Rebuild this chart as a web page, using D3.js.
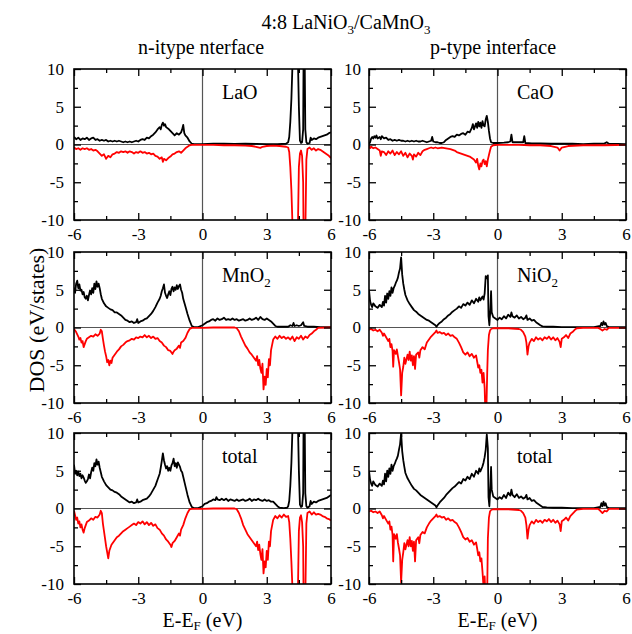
<!DOCTYPE html>
<html>
<head>
<meta charset="utf-8">
<script src="https://cdnjs.cloudflare.com/ajax/libs/d3/7.8.5/d3.min.js"></script>
<style>
  body { margin: 0; background: #fff; }
  svg text { font-family: "Liberation Serif", "Times New Roman", serif; fill: #000; }
</style>
</head>
<body>
<div id="chart"></div>
<script>
var svgWidth = 632;
var svgHeight = 634;

// tick values shared by all six panels
var xTicks = [-6, -3, 0, 3, 6];
var xMinorTicks = [-4.5, -1.5, 1.5, 4.5];
var yTicks = [-10, -5, 0, 5, 10];
var yMinorTicks = [-7.5, -2.5, 2.5, 7.5];

// panel labels (subscript written after "_")
var panelLabels = ["LaO", "CaO", "MnO_2", "NiO_2", "total", "total"];

// DOS curves: [E - E_F (eV), DOS]
var laoUp = [[-6,1.0],[-5.9,0.7],[-5.8,0.9],[-5.7,0.6],[-5.6,0.8],[-5.5,0.7],[-5.4,0.9],[-5.3,0.6],[-5.2,0.8],[-5.1,0.9],[-5.0,0.6],[-4.9,0.7],[-4.8,0.5],[-4.7,0.6],[-4.6,0.5],[-4.5,0.6],[-4.4,0.4],[-4.3,0.5],[-4.2,0.4],[-4.1,0.5],[-4.0,0.4],[-3.9,0.5],[-3.8,0.4],[-3.7,0.3],[-3.6,0.4],[-3.5,0.3],[-3.4,0.4],[-3.3,0.3],[-3.2,0.4],[-3.1,0.5],[-3.0,0.4],[-2.9,0.6],[-2.8,0.7],[-2.7,0.6],[-2.6,0.9],[-2.5,0.8],[-2.4,1.1],[-2.3,1.3],[-2.2,1.6],[-2.1,2.0],[-2.0,2.3],[-1.95,2.0],[-1.9,2.6],[-1.85,2.9],[-1.8,2.5],[-1.75,2.7],[-1.7,2.3],[-1.6,2.1],[-1.5,1.8],[-1.4,1.5],[-1.3,1.2],[-1.2,1.5],[-1.1,1.3],[-1.0,1.6],[-0.95,2.0],[-0.9,2.6],[-0.85,1.5],[-0.8,1.2],[-0.7,0.9],[-0.6,0.4],[-0.5,0.1],[-0.4,0.05],[0,0.05],[0.5,0.1],[1,0.1],[1.5,0.08],[2,0.1],[2.5,0.08],[3,0.05],[3.5,0.05],[3.9,0.1],[4.0,0.3],[4.05,1.0],[4.1,3],[4.15,6],[4.2,10.5],[4.25,12],[4.45,12],[4.5,5],[4.55,0.5],[4.6,0.2],[4.65,0.3],[4.7,2],[4.72,12],[4.77,12],[4.8,2],[4.85,0.3],[4.9,0.1],[5.0,0.2],[5.05,0.9],[5.1,0.6],[5.2,0.8],[5.3,0.7],[5.4,0.9],[5.5,1.0],[5.6,1.1],[5.7,1.2],[5.8,1.3],[5.9,1.5],[6.0,1.6]];
var laoDown = [[-6,-0.4],[-5.9,-0.6],[-5.8,-0.5],[-5.7,-0.7],[-5.6,-0.5],[-5.5,-0.6],[-5.4,-0.5],[-5.3,-0.7],[-5.2,-0.6],[-5.1,-0.8],[-5.0,-0.7],[-4.9,-0.9],[-4.8,-1.2],[-4.7,-1.5],[-4.6,-1.3],[-4.5,-1.9],[-4.4,-1.5],[-4.3,-1.7],[-4.2,-1.3],[-4.1,-1.2],[-4.0,-1.0],[-3.9,-1.1],[-3.8,-0.9],[-3.7,-1.0],[-3.6,-0.9],[-3.5,-1.1],[-3.4,-0.9],[-3.3,-1.0],[-3.2,-1.2],[-3.1,-1.0],[-3.0,-1.1],[-2.9,-0.9],[-2.8,-1.1],[-2.7,-1.0],[-2.6,-1.2],[-2.5,-1.1],[-2.4,-1.3],[-2.3,-1.2],[-2.2,-1.5],[-2.1,-1.6],[-2.0,-1.9],[-1.9,-1.7],[-1.85,-2.3],[-1.8,-1.9],[-1.7,-2.1],[-1.6,-1.8],[-1.5,-1.6],[-1.4,-1.3],[-1.3,-1.2],[-1.2,-1.0],[-1.1,-0.9],[-1.0,-1.1],[-0.9,-0.8],[-0.8,-0.5],[-0.7,-0.3],[-0.6,-0.1],[-0.5,-0.05],[0,-0.05],[0.5,-0.05],[1,-0.1],[1.5,-0.1],[2,-0.15],[2.3,-0.2],[2.5,-0.3],[2.7,-0.45],[2.8,-0.3],[3.0,-0.2],[3.3,-0.15],[3.6,-0.2],[3.9,-0.3],[4.0,-0.4],[4.05,-1],[4.1,-3],[4.15,-6],[4.2,-10.5],[4.25,-12],[4.45,-12],[4.5,-3],[4.55,-1.2],[4.6,-0.8],[4.65,-1.5],[4.7,-5],[4.72,-12],[4.8,-12],[4.85,-2],[4.9,-0.6],[5.0,-0.4],[5.1,-0.7],[5.2,-0.5],[5.3,-0.8],[5.4,-0.6],[5.5,-0.7],[5.6,-0.9],[5.7,-1.1],[5.8,-1.3],[5.9,-1.5],[6.0,-1.8]];

var caoUp = [[-6,0.05],[-5.95,0.3],[-5.9,0.8],[-5.85,1.0],[-5.8,0.8],[-5.75,1.1],[-5.7,0.9],[-5.65,1.2],[-5.6,0.8],[-5.5,1.0],[-5.45,0.7],[-5.4,1.1],[-5.3,0.8],[-5.2,0.9],[-5.1,0.6],[-5.0,0.7],[-4.9,0.5],[-4.8,0.6],[-4.7,0.5],[-4.6,0.6],[-4.5,0.5],[-4.4,0.5],[-4.3,0.4],[-4.2,0.5],[-4.1,0.4],[-4.0,0.5],[-3.9,0.4],[-3.8,0.5],[-3.7,0.4],[-3.6,0.4],[-3.5,0.5],[-3.4,0.4],[-3.3,0.3],[-3.2,0.4],[-3.1,0.5],[-3.05,1.0],[-3.0,0.4],[-2.9,0.3],[-2.8,0.3],[-2.7,0.2],[-2.6,0.2],[-2.5,0.3],[-2.4,0.6],[-2.3,0.8],[-2.2,1.0],[-2.1,1.1],[-2.0,1.0],[-1.9,1.3],[-1.8,1.2],[-1.7,1.4],[-1.6,1.5],[-1.5,1.3],[-1.4,1.7],[-1.3,1.6],[-1.2,2.2],[-1.15,2.7],[-1.1,2.0],[-1.0,2.8],[-0.95,2.2],[-0.9,3.0],[-0.85,2.4],[-0.8,2.9],[-0.75,2.2],[-0.7,3.1],[-0.65,2.5],[-0.6,2.4],[-0.55,3.3],[-0.5,3.8],[-0.45,3.0],[-0.4,1.8],[-0.35,0.8],[-0.3,0.3],[-0.2,0.2],[0,0.2],[0.3,0.25],[0.5,0.3],[0.6,0.4],[0.65,1.3],[0.7,0.3],[1.0,0.3],[1.2,0.3],[1.25,1.1],[1.3,0.2],[1.6,0.15],[2.0,0.15],[2.5,0.1],[3,0.1],[3.5,0.1],[4,0.05],[4.5,0.1],[5,0.15],[5.1,0.3],[5.2,0.1],[6,0.05]];
var caoDown = [[-6,-0.1],[-5.95,-0.5],[-5.9,-0.3],[-5.8,-0.5],[-5.7,-0.4],[-5.6,-0.6],[-5.5,-0.8],[-5.45,-1.5],[-5.4,-0.9],[-5.3,-1.0],[-5.2,-1.4],[-5.1,-0.9],[-5.0,-1.2],[-4.9,-0.8],[-4.8,-1.4],[-4.7,-1.0],[-4.6,-1.3],[-4.5,-0.9],[-4.4,-1.5],[-4.3,-1.1],[-4.2,-1.7],[-4.1,-1.2],[-4.0,-1.5],[-3.95,-2.0],[-3.9,-1.3],[-3.8,-1.6],[-3.7,-1.1],[-3.6,-1.4],[-3.5,-0.9],[-3.4,-0.7],[-3.3,-0.6],[-3.2,-0.5],[-3.1,-0.4],[-3.0,-0.5],[-2.9,-0.4],[-2.8,-0.5],[-2.6,-0.4],[-2.4,-0.5],[-2.2,-0.6],[-2.0,-0.8],[-1.9,-1.0],[-1.8,-1.1],[-1.7,-1.2],[-1.6,-1.3],[-1.5,-1.4],[-1.4,-1.5],[-1.3,-1.6],[-1.2,-1.8],[-1.1,-2.0],[-1.0,-2.4],[-0.95,-1.9],[-0.9,-2.8],[-0.85,-3.3],[-0.8,-2.5],[-0.75,-2.9],[-0.7,-2.2],[-0.65,-2.0],[-0.6,-2.6],[-0.55,-2.2],[-0.5,-2.9],[-0.45,-2.0],[-0.4,-1.4],[-0.35,-0.8],[-0.3,-0.3],[-0.2,-0.1],[0,-0.05],[1,-0.05],[1.5,-0.1],[2,-0.1],[2.5,-0.2],[2.8,-0.4],[2.9,-0.8],[3.0,-0.4],[3.3,-0.2],[4,-0.1],[5,-0.1],[6,-0.05]];

var mno2Up = [[-6,5.3],[-5.95,4.6],[-5.9,5.8],[-5.85,6.2],[-5.8,5.2],[-5.75,5.7],[-5.7,4.9],[-5.65,5.0],[-5.6,4.4],[-5.55,4.7],[-5.5,4.0],[-5.45,3.8],[-5.4,4.2],[-5.35,3.6],[-5.3,4.3],[-5.25,4.9],[-5.2,4.4],[-5.15,5.2],[-5.1,4.6],[-5.05,5.8],[-5.0,5.1],[-4.95,6.1],[-4.9,5.4],[-4.85,5.8],[-4.8,5.2],[-4.75,4.4],[-4.7,3.8],[-4.6,3.2],[-4.5,2.8],[-4.4,2.6],[-4.3,2.4],[-4.2,2.3],[-4.1,2.0],[-4.0,2.0],[-3.9,1.8],[-3.8,1.6],[-3.7,1.3],[-3.6,1.0],[-3.5,0.9],[-3.4,0.7],[-3.3,0.8],[-3.2,0.6],[-3.1,0.7],[-3.05,1.1],[-3.0,0.6],[-2.9,0.8],[-2.8,0.9],[-2.7,1.1],[-2.6,1.2],[-2.5,1.5],[-2.4,1.8],[-2.3,2.2],[-2.2,2.7],[-2.1,3.3],[-2.0,3.8],[-1.95,4.2],[-1.9,4.8],[-1.85,5.2],[-1.8,5.7],[-1.75,4.6],[-1.7,4.2],[-1.65,3.9],[-1.6,4.4],[-1.55,4.8],[-1.5,4.3],[-1.45,5.1],[-1.4,5.4],[-1.35,4.8],[-1.3,5.3],[-1.25,5.0],[-1.2,5.6],[-1.15,5.1],[-1.1,5.5],[-1.05,5.7],[-1.0,5.0],[-0.95,4.6],[-0.9,3.8],[-0.8,2.8],[-0.7,1.8],[-0.6,0.9],[-0.5,0.2],[-0.4,0.05],[-0.2,0.05],[0,0.3],[0.1,0.5],[0.2,0.7],[0.3,0.8],[0.4,1.0],[0.5,1.1],[0.6,0.9],[0.7,1.2],[0.8,1.0],[0.9,1.1],[1.0,1.3],[1.1,1.0],[1.2,1.1],[1.3,1.0],[1.4,1.2],[1.5,1.0],[1.6,1.1],[1.7,0.9],[1.8,1.0],[1.9,1.1],[2.0,0.9],[2.1,1.0],[2.2,1.2],[2.3,1.0],[2.4,1.1],[2.5,1.3],[2.6,1.0],[2.7,1.4],[2.8,1.1],[2.9,1.0],[3.0,1.2],[3.1,1.0],[3.2,0.8],[3.3,0.5],[3.4,0.2],[3.5,0.1],[3.8,0.1],[4.0,0.1],[4.1,0.3],[4.2,0.2],[4.25,0.6],[4.3,0.2],[4.4,0.3],[4.5,0.2],[4.6,0.3],[4.7,0.7],[4.75,0.2],[4.9,0.1],[5.2,0.1],[5.5,0.05],[6,0.05]];
var mno2Down = [[-6,-0.2],[-5.9,-0.6],[-5.8,-1.2],[-5.75,-1.6],[-5.7,-1.4],[-5.65,-2.0],[-5.6,-1.8],[-5.55,-2.6],[-5.5,-2.2],[-5.45,-1.8],[-5.4,-1.5],[-5.3,-1.3],[-5.2,-1.1],[-5.1,-1.2],[-5.0,-0.9],[-4.9,-1.1],[-4.8,-0.8],[-4.75,-0.3],[-4.7,-0.5],[-4.65,-1.5],[-4.6,-2.4],[-4.55,-3.2],[-4.5,-3.8],[-4.45,-4.6],[-4.4,-4.3],[-4.35,-5.0],[-4.3,-4.4],[-4.25,-4.7],[-4.2,-4.0],[-4.1,-3.6],[-4.0,-3.2],[-3.9,-2.9],[-3.8,-2.5],[-3.7,-2.3],[-3.6,-2.0],[-3.5,-1.8],[-3.4,-1.7],[-3.3,-1.5],[-3.2,-1.6],[-3.1,-1.3],[-3.0,-1.4],[-2.9,-1.2],[-2.8,-1.3],[-2.7,-1.0],[-2.6,-1.3],[-2.5,-1.1],[-2.4,-1.4],[-2.3,-1.2],[-2.2,-1.5],[-2.1,-1.4],[-2.0,-1.8],[-1.9,-2.0],[-1.8,-2.4],[-1.7,-2.6],[-1.6,-3.0],[-1.5,-3.1],[-1.4,-3.5],[-1.35,-3.2],[-1.3,-3.0],[-1.2,-2.8],[-1.1,-2.4],[-1.05,-2.7],[-1.0,-2.0],[-0.9,-1.8],[-0.8,-1.4],[-0.7,-0.7],[-0.6,-0.2],[-0.5,-0.05],[0,-0.05],[0.5,0],[1.0,0],[1.5,0],[1.6,-0.1],[1.7,-0.5],[1.8,-1.2],[1.9,-1.8],[2.0,-2.4],[2.1,-2.8],[2.2,-3.3],[2.3,-3.6],[2.4,-4.0],[2.5,-4.4],[2.55,-3.8],[2.6,-5.0],[2.65,-4.3],[2.7,-5.4],[2.75,-6.0],[2.8,-4.8],[2.85,-8.2],[2.9,-6.5],[2.95,-7.6],[3.0,-5.5],[3.05,-6.6],[3.1,-4.2],[3.15,-5.0],[3.2,-3.0],[3.3,-1.6],[3.4,-1.2],[3.5,-1.5],[3.6,-1.1],[3.7,-1.4],[3.8,-1.2],[3.9,-1.5],[4.0,-1.3],[4.1,-1.6],[4.2,-1.2],[4.3,-1.8],[4.4,-1.3],[4.5,-1.5],[4.6,-1.1],[4.7,-1.6],[4.8,-1.2],[4.9,-1.4],[5.0,-1.0],[5.1,-0.8],[5.2,-0.5],[5.3,-0.3],[5.4,-0.05],[6,0]];

var nio2Up = [[-6,5.0],[-5.95,3.5],[-5.9,3.0],[-5.85,2.7],[-5.8,3.2],[-5.7,2.8],[-5.6,2.6],[-5.5,3.0],[-5.4,2.7],[-5.35,3.4],[-5.3,2.9],[-5.25,4.2],[-5.2,3.3],[-5.15,4.5],[-5.1,3.8],[-5.05,4.8],[-5.0,4.2],[-4.95,5.3],[-4.9,4.6],[-4.85,5.2],[-4.8,5.5],[-4.75,5.9],[-4.7,6.2],[-4.65,6.6],[-4.6,7.3],[-4.55,7.8],[-4.5,9.3],[-4.45,7.0],[-4.4,5.8],[-4.35,5.0],[-4.3,4.3],[-4.2,3.6],[-4.1,3.1],[-4.0,2.7],[-3.9,2.3],[-3.8,2.1],[-3.7,1.8],[-3.6,1.6],[-3.5,1.4],[-3.4,1.2],[-3.3,1.0],[-3.2,0.9],[-3.1,0.7],[-3.0,0.5],[-2.9,0.3],[-2.85,0.1],[-2.8,0.3],[-2.7,0.6],[-2.6,0.8],[-2.5,1.1],[-2.4,1.3],[-2.3,1.6],[-2.2,1.8],[-2.1,2.1],[-2.0,2.3],[-1.9,2.5],[-1.8,2.8],[-1.7,2.6],[-1.6,3.1],[-1.5,2.9],[-1.4,3.3],[-1.3,3.0],[-1.2,3.6],[-1.1,3.2],[-1.0,3.8],[-0.9,3.4],[-0.85,4.0],[-0.8,3.6],[-0.7,4.1],[-0.65,3.7],[-0.6,4.5],[-0.55,6.8],[-0.5,6.5],[-0.45,6.9],[-0.42,1.5],[-0.38,0.3],[-0.33,2.5],[-0.3,4.8],[-0.27,2.0],[-0.2,1.4],[-0.1,1.2],[0,1.0],[0.1,1.3],[0.2,1.1],[0.3,1.5],[0.4,1.2],[0.5,1.7],[0.6,1.4],[0.65,2.0],[0.7,1.5],[0.8,1.3],[0.9,1.6],[1.0,1.2],[1.1,1.4],[1.2,1.1],[1.3,1.3],[1.35,1.6],[1.4,1.0],[1.5,1.2],[1.6,0.9],[1.7,1.0],[1.8,0.7],[1.9,0.5],[2.0,0.3],[2.1,0.15],[2.3,0.1],[2.6,0.1],[3,0.05],[3.5,0.05],[4,0.05],[4.5,0.05],[4.8,0.2],[4.85,0.6],[4.9,0.3],[4.95,0.8],[5.0,0.4],[5.05,0.6],[5.1,0.2],[5.2,0.05],[6,0.05]];
var nio2Down = [[-6,-0.3],[-5.9,-0.2],[-5.8,-0.4],[-5.7,-0.3],[-5.6,-0.5],[-5.5,-0.3],[-5.4,-0.7],[-5.35,-1.1],[-5.3,-0.8],[-5.2,-1.3],[-5.1,-1.8],[-5.05,-1.5],[-5.0,-2.6],[-4.95,-2.2],[-4.9,-3.1],[-4.87,-5.2],[-4.83,-3.0],[-4.75,-3.5],[-4.7,-2.9],[-4.65,-3.8],[-4.6,-4.6],[-4.55,-5.5],[-4.5,-9.0],[-4.45,-6.0],[-4.4,-5.2],[-4.35,-4.0],[-4.3,-4.8],[-4.2,-3.6],[-4.15,-4.3],[-4.1,-3.2],[-4.05,-4.4],[-4.0,-3.7],[-3.95,-5.0],[-3.9,-3.8],[-3.85,-5.5],[-3.8,-3.6],[-3.7,-3.3],[-3.65,-4.0],[-3.6,-3.0],[-3.5,-2.6],[-3.4,-2.9],[-3.3,-2.0],[-3.2,-1.6],[-3.1,-1.2],[-3.0,-0.9],[-2.9,-0.6],[-2.85,-0.4],[-2.8,-0.7],[-2.7,-0.6],[-2.6,-0.8],[-2.5,-0.7],[-2.4,-1.0],[-2.3,-0.8],[-2.2,-1.1],[-2.1,-1.0],[-2.0,-1.3],[-1.9,-1.5],[-1.8,-2.0],[-1.7,-2.6],[-1.6,-3.3],[-1.5,-3.6],[-1.4,-3.3],[-1.3,-3.8],[-1.2,-3.5],[-1.1,-4.0],[-1.0,-3.7],[-0.95,-4.5],[-0.9,-5.3],[-0.85,-5.0],[-0.8,-6.0],[-0.75,-5.6],[-0.7,-7.3],[-0.65,-6.0],[-0.6,-8.0],[-0.57,-11],[-0.52,-11],[-0.48,-6],[-0.45,-3],[-0.4,-1.0],[-0.35,-0.4],[-0.3,-0.2],[-0.2,-0.1],[0,-0.1],[0.5,-0.1],[1.0,-0.2],[1.1,-0.3],[1.2,-0.6],[1.3,-1.2],[1.35,-2.0],[1.4,-3.6],[1.45,-2.5],[1.5,-2.0],[1.6,-1.5],[1.7,-1.8],[1.8,-1.3],[1.9,-1.6],[2.0,-1.4],[2.1,-1.7],[2.2,-1.3],[2.3,-1.5],[2.4,-1.2],[2.5,-1.6],[2.6,-1.3],[2.7,-1.7],[2.8,-1.4],[2.9,-1.9],[2.95,-2.6],[3.0,-1.5],[3.1,-1.3],[3.2,-1.0],[3.3,-1.4],[3.4,-0.8],[3.5,-0.6],[3.6,-0.3],[3.7,-0.1],[4,-0.05],[4.7,-0.05],[4.8,-0.2],[4.9,-0.4],[5.0,-0.2],[5.1,-0.3],[5.2,-0.05],[6,-0.05]];

var totalNUp = [[-6,5.8],[-5.95,4.6],[-5.9,5.0],[-5.85,4.4],[-5.8,4.9],[-5.75,4.3],[-5.7,4.6],[-5.65,4.0],[-5.6,4.4],[-5.55,4.1],[-5.5,3.7],[-5.45,3.4],[-5.4,3.6],[-5.35,3.9],[-5.3,4.5],[-5.25,4.0],[-5.2,4.8],[-5.15,5.4],[-5.1,5.0],[-5.05,6.0],[-5.0,5.6],[-4.95,6.5],[-4.9,5.8],[-4.85,6.2],[-4.8,5.4],[-4.75,4.8],[-4.7,4.2],[-4.6,3.6],[-4.5,3.1],[-4.4,2.8],[-4.3,2.5],[-4.2,2.4],[-4.1,2.2],[-4.0,2.1],[-3.9,1.9],[-3.8,1.6],[-3.7,1.4],[-3.6,1.2],[-3.5,1.0],[-3.4,0.8],[-3.3,0.9],[-3.2,0.7],[-3.1,0.8],[-3.05,1.2],[-3.0,0.8],[-2.9,0.9],[-2.8,1.1],[-2.7,1.2],[-2.6,1.3],[-2.5,1.6],[-2.4,2.0],[-2.3,2.5],[-2.2,3.0],[-2.1,3.8],[-2.0,4.6],[-1.95,5.4],[-1.9,6.3],[-1.85,7.3],[-1.8,6.4],[-1.75,5.8],[-1.7,5.3],[-1.65,5.6],[-1.6,5.0],[-1.55,5.4],[-1.5,5.0],[-1.45,5.7],[-1.4,6.0],[-1.35,6.6],[-1.3,5.6],[-1.25,6.0],[-1.2,5.4],[-1.15,6.1],[-1.1,5.8],[-1.05,5.5],[-1.0,5.0],[-0.95,4.8],[-0.9,4.2],[-0.8,3.0],[-0.7,1.8],[-0.6,0.8],[-0.5,0.2],[-0.4,0.05],[-0.2,0.05],[0,0.3],[0.1,0.6],[0.2,0.7],[0.3,0.9],[0.4,1.0],[0.5,1.2],[0.6,1.1],[0.65,1.5],[0.7,1.2],[0.8,1.1],[0.9,1.3],[1.0,1.1],[1.1,1.3],[1.2,1.0],[1.3,1.2],[1.4,1.1],[1.5,1.0],[1.6,1.2],[1.7,1.0],[1.8,1.1],[1.9,1.2],[2.0,1.0],[2.1,1.1],[2.2,1.3],[2.3,1.0],[2.4,1.2],[2.5,1.1],[2.6,1.3],[2.7,1.1],[2.8,1.0],[2.9,1.2],[3.0,1.0],[3.1,1.1],[3.2,0.9],[3.3,0.9],[3.4,0.6],[3.5,0.3],[3.6,0.1],[3.8,0.05],[3.95,0.1],[4.0,0.3],[4.05,1.0],[4.1,3],[4.15,6],[4.2,10.5],[4.25,12],[4.45,12],[4.5,5],[4.55,0.5],[4.6,0.2],[4.65,0.3],[4.7,2],[4.72,12],[4.77,12],[4.8,2],[4.85,0.3],[4.9,0.1],[5.0,0.3],[5.05,1.0],[5.1,0.6],[5.2,0.9],[5.3,0.8],[5.4,1.0],[5.5,1.1],[5.6,1.2],[5.7,1.3],[5.8,1.4],[5.9,1.6],[6.0,1.8]];
var totalNDown = [[-6,-0.3],[-5.95,-0.9],[-5.9,-1.5],[-5.85,-1.2],[-5.8,-2.0],[-5.75,-1.7],[-5.7,-2.5],[-5.65,-2.1],[-5.6,-2.8],[-5.55,-3.2],[-5.5,-2.6],[-5.45,-2.2],[-5.4,-1.8],[-5.3,-1.6],[-5.2,-1.3],[-5.1,-1.5],[-5.0,-1.1],[-4.9,-1.2],[-4.8,-0.8],[-4.75,-0.3],[-4.7,-0.6],[-4.65,-2.0],[-4.6,-3.0],[-4.55,-4.0],[-4.5,-5.0],[-4.45,-5.8],[-4.4,-6.6],[-4.35,-5.6],[-4.3,-5.2],[-4.25,-4.8],[-4.2,-4.6],[-4.1,-4.2],[-4.0,-3.8],[-3.9,-3.6],[-3.8,-3.3],[-3.7,-3.0],[-3.6,-2.8],[-3.5,-2.6],[-3.4,-2.4],[-3.3,-2.2],[-3.2,-2.0],[-3.1,-2.2],[-3.0,-1.8],[-2.9,-2.0],[-2.8,-1.7],[-2.7,-2.1],[-2.6,-1.8],[-2.5,-2.2],[-2.4,-1.9],[-2.3,-2.3],[-2.2,-2.1],[-2.1,-2.6],[-2.0,-2.8],[-1.9,-3.3],[-1.8,-3.6],[-1.7,-4.1],[-1.6,-4.4],[-1.5,-4.8],[-1.45,-5.1],[-1.4,-4.6],[-1.3,-4.3],[-1.2,-3.8],[-1.1,-3.3],[-1.05,-3.6],[-1.0,-2.8],[-0.9,-2.2],[-0.8,-1.3],[-0.7,-0.6],[-0.6,-0.1],[-0.5,-0.05],[0,-0.05],[0.5,0],[1.0,0],[1.5,0],[1.6,-0.1],[1.7,-0.6],[1.8,-1.3],[1.9,-2.2],[2.0,-2.8],[2.1,-3.4],[2.2,-3.8],[2.3,-4.2],[2.4,-4.6],[2.5,-5.0],[2.55,-4.4],[2.6,-5.5],[2.65,-4.8],[2.7,-6.0],[2.75,-6.8],[2.8,-5.4],[2.85,-8.6],[2.9,-7.0],[2.95,-7.8],[3.0,-5.6],[3.05,-6.8],[3.1,-4.4],[3.15,-5.0],[3.2,-3.0],[3.3,-1.5],[3.4,-1.0],[3.5,-1.3],[3.6,-0.9],[3.7,-1.2],[3.8,-0.8],[3.9,-1.1],[4.0,-1.0],[4.05,-1.8],[4.1,-4],[4.15,-7],[4.2,-10.5],[4.25,-12],[4.45,-12],[4.5,-3],[4.55,-1.2],[4.6,-0.9],[4.65,-1.8],[4.7,-5],[4.72,-12],[4.8,-12],[4.85,-2],[4.9,-0.6],[5.0,-0.4],[5.1,-0.8],[5.2,-0.5],[5.3,-0.8],[5.4,-0.7],[5.5,-0.8],[5.6,-1.0],[5.7,-1.1],[5.8,-1.3],[5.9,-1.4],[6.0,-1.6]];

var totalPUp = [[-6,5.0],[-5.95,3.8],[-5.9,3.3],[-5.85,3.0],[-5.8,3.6],[-5.7,3.1],[-5.6,2.9],[-5.5,3.3],[-5.4,3.0],[-5.35,3.7],[-5.3,3.2],[-5.25,4.6],[-5.2,3.6],[-5.15,5.0],[-5.1,4.2],[-5.05,5.3],[-5.0,4.6],[-4.95,5.8],[-4.9,5.0],[-4.85,5.6],[-4.8,5.9],[-4.75,6.3],[-4.7,6.6],[-4.65,7.0],[-4.6,7.8],[-4.55,8.5],[-4.5,10.0],[-4.45,7.6],[-4.4,6.4],[-4.35,5.5],[-4.3,4.7],[-4.2,4.0],[-4.1,3.5],[-4.0,3.0],[-3.9,2.6],[-3.8,2.4],[-3.7,2.1],[-3.6,1.8],[-3.5,1.6],[-3.4,1.4],[-3.3,1.2],[-3.2,1.0],[-3.1,0.8],[-3.0,0.6],[-2.9,0.4],[-2.85,0.15],[-2.8,0.4],[-2.7,0.8],[-2.6,1.1],[-2.5,1.4],[-2.4,1.8],[-2.3,2.1],[-2.2,2.4],[-2.1,2.7],[-2.0,2.9],[-1.9,3.2],[-1.8,3.5],[-1.7,3.3],[-1.6,3.9],[-1.5,3.7],[-1.4,4.2],[-1.3,3.9],[-1.2,4.6],[-1.1,4.2],[-1.0,5.0],[-0.9,4.6],[-0.85,5.3],[-0.8,4.9],[-0.7,5.6],[-0.65,6.1],[-0.6,6.8],[-0.55,7.8],[-0.5,9.8],[-0.45,8.0],[-0.42,1.5],[-0.38,0.3],[-0.33,3.0],[-0.3,5.5],[-0.27,2.5],[-0.2,1.6],[-0.1,1.4],[0,1.2],[0.1,1.5],[0.2,1.3],[0.3,1.8],[0.4,1.4],[0.5,2.1],[0.6,1.7],[0.65,2.5],[0.7,1.8],[0.8,1.5],[0.9,1.9],[1.0,1.4],[1.1,1.6],[1.2,1.3],[1.3,1.5],[1.35,1.8],[1.4,1.2],[1.5,1.4],[1.6,1.0],[1.7,1.1],[1.8,0.8],[1.9,0.6],[2.0,0.4],[2.1,0.2],[2.3,0.15],[2.6,0.1],[3,0.1],[3.5,0.05],[4,0.05],[4.5,0.05],[4.8,0.2],[4.85,0.7],[4.9,0.3],[4.95,0.9],[5.0,0.4],[5.05,0.7],[5.1,0.2],[5.2,0.05],[6,0.05]];
var totalPDown = [[-6,-0.4],[-5.9,-0.3],[-5.8,-0.5],[-5.7,-0.4],[-5.6,-0.6],[-5.5,-0.4],[-5.4,-0.9],[-5.35,-1.3],[-5.3,-1.0],[-5.2,-1.5],[-5.1,-2.0],[-5.05,-1.7],[-5.0,-2.8],[-4.95,-2.4],[-4.9,-3.5],[-4.87,-7.0],[-4.83,-3.4],[-4.75,-4.0],[-4.7,-3.4],[-4.65,-4.5],[-4.6,-5.3],[-4.55,-6.2],[-4.5,-9.8],[-4.45,-6.8],[-4.4,-5.8],[-4.35,-4.6],[-4.3,-5.4],[-4.2,-4.2],[-4.15,-5.0],[-4.1,-3.8],[-4.05,-5.0],[-4.0,-4.3],[-3.95,-5.6],[-3.9,-4.4],[-3.85,-7.0],[-3.8,-4.2],[-3.7,-3.8],[-3.65,-4.6],[-3.6,-3.5],[-3.5,-3.1],[-3.4,-3.3],[-3.3,-2.5],[-3.2,-2.0],[-3.1,-1.6],[-3.0,-1.3],[-2.9,-1.0],[-2.85,-0.8],[-2.8,-1.1],[-2.7,-1.0],[-2.6,-1.2],[-2.5,-1.1],[-2.4,-1.5],[-2.3,-1.3],[-2.2,-1.6],[-2.1,-1.5],[-2.0,-1.8],[-1.9,-2.0],[-1.8,-2.5],[-1.7,-3.1],[-1.6,-3.8],[-1.5,-4.1],[-1.4,-3.9],[-1.3,-4.4],[-1.2,-4.2],[-1.1,-4.8],[-1.0,-4.5],[-0.95,-5.3],[-0.9,-6.2],[-0.85,-5.8],[-0.8,-7.0],[-0.75,-6.6],[-0.7,-8.4],[-0.65,-10.5],[-0.6,-9.0],[-0.57,-11],[-0.48,-11],[-0.45,-4],[-0.4,-1.2],[-0.35,-0.4],[-0.3,-0.2],[-0.2,-0.1],[0,-0.1],[0.5,-0.1],[1.0,-0.2],[1.1,-0.3],[1.2,-0.6],[1.3,-1.2],[1.35,-2.2],[1.4,-4.0],[1.45,-2.8],[1.5,-2.2],[1.6,-1.7],[1.7,-2.0],[1.8,-1.5],[1.9,-1.8],[2.0,-1.6],[2.1,-1.9],[2.2,-1.5],[2.3,-1.7],[2.4,-1.4],[2.5,-1.8],[2.6,-1.5],[2.7,-1.9],[2.8,-1.6],[2.9,-2.1],[2.95,-3.0],[3.0,-1.7],[3.1,-1.5],[3.2,-1.2],[3.3,-1.6],[3.4,-1.0],[3.5,-0.7],[3.6,-0.4],[3.7,-0.15],[4,-0.05],[4.7,-0.05],[4.8,-0.3],[4.9,-0.6],[5.0,-0.3],[5.1,-0.4],[5.2,-0.05],[6,-0.05]];

// panels in reading order: [spin up, spin down]
var panelCurves = [
  [laoUp, laoDown], [caoUp, caoDown],
  [mno2Up, mno2Down], [nio2Up, nio2Down],
  [totalNUp, totalNDown], [totalPUp, totalPDown]
];

// layout
var colLeft = [74, 369];
var rowTop = [69, 252, 433];
var panelW = 257;
var panelH = 151;
var serif = "'Liberation Serif', 'Times New Roman', serif";

var svg = d3.select("#chart")
  .append("svg")
  .attr("width", svgWidth)
  .attr("height", svgHeight)
  .style("display", "block");

var x = d3.scaleLinear().domain([-6, 6]).range([0, panelW]);
var y = d3.scaleLinear().domain([-10, 10]).range([panelH, 0]);

var line = d3.line()
  .x(d => x(d[0]))
  .y(d => y(d[1]));

// write "A_2" style labels as text + subscript tspans
function richText(sel, str, subSize, subDy) {
  var shift = subDy || 5;
  var parts = str.split("_");
  sel.style("font-family", serif);
  sel.append("tspan").text(parts[0]);
  for (var i = 1; i < parts.length; i++) {
    sel.append("tspan")
      .attr("font-size", subSize)
      .attr("dy", shift)
      .text(parts[i].charAt(0));
    if (parts[i].length > 1) {
      sel.append("tspan").attr("dy", -shift).text(parts[i].slice(1));
    }
  }
}

panelCurves.forEach(function(curves, i) {
  var col = i % 2;
  var row = Math.floor(i / 2);
  var g = svg.append("g")
    .attr("transform", `translate(${colLeft[col]}, ${rowTop[row]})`);

  g.append("clipPath")
    .attr("id", "clip" + i)
    .append("rect")
    .attr("width", panelW)
    .attr("height", panelH);

  // zero lines
  g.append("line")
    .attr("x1", 0).attr("x2", panelW)
    .attr("y1", y(0)).attr("y2", y(0))
    .attr("stroke", "#555").attr("stroke-width", 1.2);
  g.append("line")
    .attr("x1", x(0)).attr("x2", x(0))
    .attr("y1", 0).attr("y2", panelH)
    .attr("stroke", "#555").attr("stroke-width", 1.2);

  // spin up (black) and spin down (red)
  var plot = g.append("g").attr("clip-path", `url(#clip${i})`);
  plot.append("path")
    .datum(curves[0])
    .attr("d", line)
    .attr("fill", "none")
    .attr("stroke", "#000")
    .attr("stroke-width", 1.8)
    .attr("stroke-linejoin", "round");
  plot.append("path")
    .datum(curves[1])
    .attr("d", line)
    .attr("fill", "none")
    .attr("stroke", "#ff0000")
    .attr("stroke-width", 1.8)
    .attr("stroke-linejoin", "round");

  // ticks on all four sides, pointing inward
  var pad = col === 0 ? 10 : 8;
  g.append("g")
    .attr("transform", `translate(0, ${panelH})`)
    .call(d3.axisBottom(x).tickValues(xTicks).tickSize(-7).tickPadding(8).tickFormat(d => String(d)));
  g.append("g")
    .attr("transform", `translate(0, ${panelH})`)
    .call(d3.axisBottom(x).tickValues(xMinorTicks).tickSize(-4).tickFormat(""));
  g.append("g")
    .call(d3.axisTop(x).tickValues(xTicks).tickSize(-7).tickFormat(""));
  g.append("g")
    .call(d3.axisTop(x).tickValues(xMinorTicks).tickSize(-4).tickFormat(""));
  g.append("g")
    .call(d3.axisLeft(y).tickValues(yTicks).tickSize(-7).tickPadding(pad).tickFormat(d => String(d)));
  g.append("g")
    .call(d3.axisLeft(y).tickValues(yMinorTicks).tickSize(-4).tickFormat(""));
  g.append("g")
    .attr("transform", `translate(${panelW}, 0)`)
    .call(d3.axisRight(y).tickValues(yTicks).tickSize(-7).tickFormat(""));
  g.append("g")
    .attr("transform", `translate(${panelW}, 0)`)
    .call(d3.axisRight(y).tickValues(yMinorTicks).tickSize(-4).tickFormat(""));

  g.selectAll(".domain").remove();
  g.selectAll(".tick line").attr("stroke", "#000").attr("stroke-width", 1.3);
  g.selectAll(".tick text")
    .style("font-family", serif)
    .attr("font-size", 17)
    .attr("fill", "#000");

  // frame
  g.append("rect")
    .attr("width", panelW)
    .attr("height", panelH)
    .attr("fill", "none")
    .attr("stroke", "#000")
    .attr("stroke-width", 1.6);

  // panel label
  g.append("text")
    .attr("x", 148)
    .attr("y", 30)
    .attr("font-size", 20)
    .call(richText, panelLabels[i], 13);
});

// title and column headings
svg.append("text")
  .attr("x", 346)
  .attr("y", 29)
  .attr("text-anchor", "middle")
  .attr("font-size", 20)
  .call(richText, "4:8 LaNiO_3/CaMnO_3", 13);

svg.append("text")
  .attr("x", 201)
  .attr("y", 54)
  .attr("text-anchor", "middle")
  .attr("font-size", 20)
  .call(richText, "n-itype nterface", 13);

svg.append("text")
  .attr("x", 493)
  .attr("y", 54)
  .attr("text-anchor", "middle")
  .attr("font-size", 20)
  .call(richText, "p-type interface", 13);

// axis titles
svg.append("text")
  .attr("transform", "translate(44, 320) rotate(-90)")
  .attr("text-anchor", "middle")
  .attr("font-size", 22)
  .call(richText, "DOS (eV/states)", 14);

colLeft.forEach(function(left) {
  svg.append("text")
    .attr("x", left + panelW / 2)
    .attr("y", 627)
    .attr("text-anchor", "middle")
    .attr("font-size", 20)
    .call(richText, "E-E_F (eV)", 13, 3);
});
</script>
</body>
</html>
